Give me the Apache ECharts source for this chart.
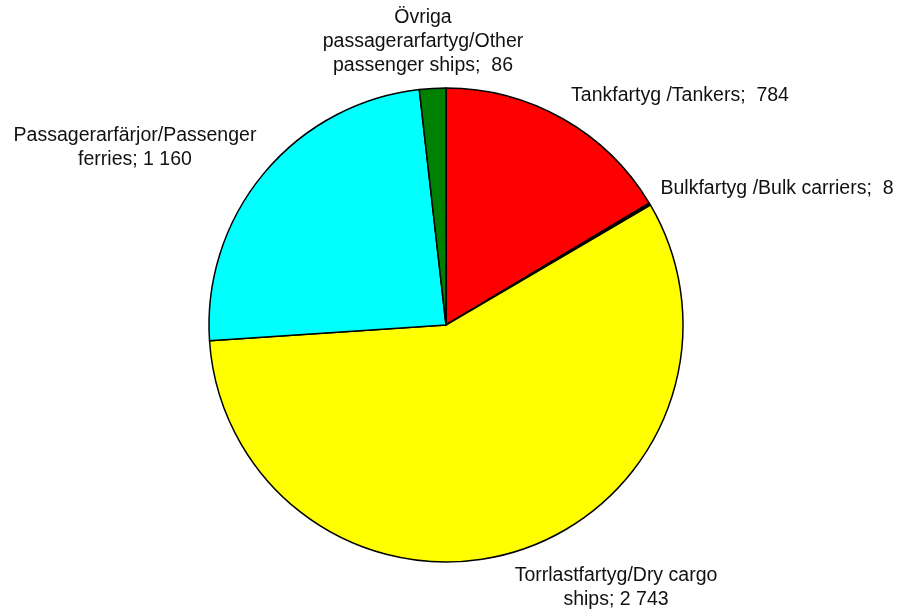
<!DOCTYPE html>
<html><head><meta charset="utf-8">
<script src="https://cdn.jsdelivr.net/npm/echarts@6/dist/echarts.min.js"></script>
<style>html,body{margin:0;padding:0;background:#fff}#c{width:898px;height:614px}</style>
</head><body><div id="c"></div>
<script>
var categories = ["Tankfartyg /Tankers;", "Bulkfartyg /Bulk carriers;", "Torrlastfartyg/Dry cargo\nships;", "Passagerarfärjor/Passenger\nferries;", "Övriga\npassagerarfartyg/Other\npassenger ships;"];
var values = [784, 8, 2743, 1160, 86];
var separators = ["  ", "  ", " ", " ", "  "];
var colors = ["#ff0000", "#000000", "#ffff00", "#00ffff", "#008000"];
var labelPos = [[680, 96], [777, 189], [616, 588], [135, 148], [423, 42]];

function fmt(v){ return String(v).replace(/\B(?=(\d{3})+(?!\d))/g, ' '); }

var data = categories.map(function(c, i){
  return { name: c, value: values[i], itemStyle: { color: colors[i] } };
});

var chart = echarts.init(document.getElementById('c'), null, {renderer: 'canvas'});
chart.setOption({
  animation: false,
  backgroundColor: '#ffffff',
  series: [{
    type: 'pie',
    center: [446, 325],
    radius: [0, 237],
    startAngle: 90,
    clockwise: true,
    data: data,
    itemStyle: { borderColor: '#000', borderWidth: 1.5 },
    label: {
      show: true,
      position: 'outside',
      formatter: function(p){ return p.name + separators[p.dataIndex] + fmt(p.value); },
      fontFamily: 'Liberation Sans, Arial, sans-serif',
      fontSize: 19.5,
      lineHeight: 24,
      color: '#111',
      align: 'center',
      overflow: 'none'
    },
    labelLine: { show: false },
    labelLayout: function(p){
      var lp = labelPos[p.dataIndex];
      return { x: lp[0], y: lp[1], align: 'center', verticalAlign: 'middle', hideOverlap: false, moveOverlap: false };
    },
    emphasis: { disabled: true }
  }]
});
</script></body></html>
